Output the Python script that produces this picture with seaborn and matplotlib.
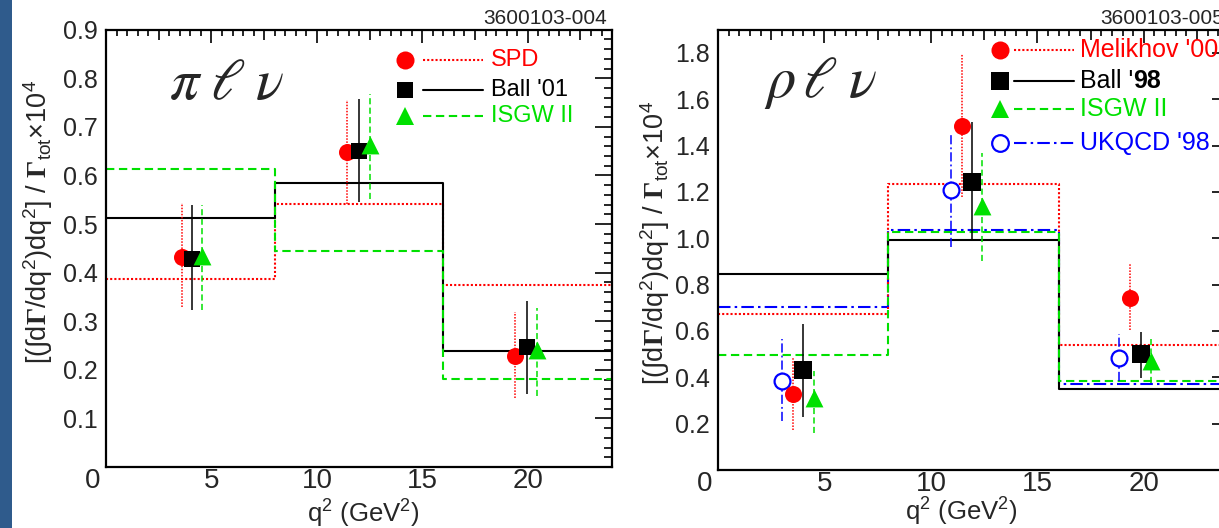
import numpy as np
import pandas as pd
import matplotlib
matplotlib.use("Agg")
import matplotlib.pyplot as plt
import seaborn as sns
from matplotlib.ticker import MultipleLocator, FixedLocator, FormatStrFormatter
from matplotlib.patches import Rectangle
from matplotlib.lines import Line2D

# ------------------------------------------------------------------ data
bin_edges = [0, 8, 16, 24]

# ---- pi l nu panel
pi_labels = ["SPD", "Ball '01", "ISGW II"]
pi_theory_spd = [0.386, 0.542, 0.375]
pi_theory_ball = [0.512, 0.584, 0.238]
pi_theory_isgw = [0.613, 0.445, 0.181]

pi_q2_spd = [3.6, 11.45, 19.4]
pi_rate_spd = [0.433, 0.648, 0.229]
pi_hi_spd = [0.543, 0.755, 0.319]
pi_lo_spd = [0.330, 0.542, 0.141]

pi_q2_ball = [4.1, 12.0, 19.95]
pi_rate_ball = [0.428, 0.651, 0.246]
pi_hi_ball = [0.539, 0.757, 0.342]
pi_lo_ball = [0.324, 0.546, 0.151]

pi_q2_isgw = [4.55, 12.5, 20.45]
pi_rate_isgw = [0.435, 0.662, 0.241]
pi_hi_isgw = [0.540, 0.767, 0.328]
pi_lo_isgw = [0.323, 0.552, 0.146]

# ---- rho l nu panel
rho_labels = ["Melikhov '00", "Ball '", "ISGW II", "UKQCD '98"]
rho_theory_mel = [0.673, 1.235, 0.538]
rho_theory_ball = [0.846, 0.993, 0.350]
rho_theory_isgw = [0.495, 1.028, 0.386]
rho_theory_ukqcd = [0.703, 1.036, 0.372]

rho_q2_mel = [3.5, 11.45, 19.35]
rho_rate_mel = [0.328, 1.484, 0.741]
rho_hi_mel = [0.485, 1.794, 0.887]
rho_lo_mel = [0.171, 1.177, 0.603]

rho_q2_ball = [4.0, 11.95, 19.85]
rho_rate_ball = [0.432, 1.242, 0.502]
rho_hi_ball = [0.630, 1.500, 0.596]
rho_lo_ball = [0.229, 0.988, 0.397]

rho_q2_isgw = [4.5, 12.4, 20.35]
rho_rate_isgw = [0.31, 1.14, 0.47]
rho_hi_isgw = [0.429, 1.369, 0.567]
rho_lo_isgw = [0.161, 0.901, 0.374]

rho_q2_ukqcd = [3.0, 10.95, 18.85]
rho_rate_ukqcd = [0.386, 1.206, 0.485]
rho_hi_ukqcd = [0.567, 1.453, 0.589]
rho_lo_ukqcd = [0.212, 0.962, 0.386]

# ------------------------------------------------------------------ style
RED = "#ff0000"
BLACK = "#000000"
GREEN = "#00e000"
BLUE = "#0000ff"
DOT = (0, (1, 1))
DASH = (0, (4, 2.2))
DASHDOT = (0, (6, 2, 1.2, 2))
SOLID = "-"

sns.set_theme(style="white")
plt.rcParams["font.family"] = ["Liberation Sans", "DejaVu Sans"]
plt.rcParams["mathtext.fontset"] = "custom"
plt.rcParams["mathtext.rm"] = "Liberation Sans"
plt.rcParams["mathtext.it"] = "Liberation Sans:italic"
plt.rcParams["mathtext.bf"] = "Liberation Serif:bold"
plt.rcParams["mathtext.fallback"] = "stix"
plt.rcParams["axes.linewidth"] = 1.6
plt.rcParams["axes.edgecolor"] = "black"

fig = plt.figure(figsize=(12.19, 5.28), dpi=100)
fig.patch.set_facecolor("white")
fig.patches.append(Rectangle((0, 0), 12 / 1219, 1, transform=fig.transFigure,
                             facecolor="#2f5b8c", edgecolor="none", zorder=0))

axL = fig.add_axes([0.0870, 0.1155, 0.4151, 0.8284])
axR = fig.add_axes([0.5890, 0.1098, 0.4192, 0.8341])


def make_series(label, color, ls, marker, theory, q2, rate, lo, hi, ms, hollow=False):
    return dict(label=label, color=color, ls=ls, marker=marker, theory=theory,
                q2=q2, rate=rate, lo=lo, hi=hi, ms=ms, hollow=hollow)


pi_series = [
    make_series(pi_labels[0], RED, DOT, "o", pi_theory_spd, pi_q2_spd, pi_rate_spd, pi_lo_spd, pi_hi_spd, 150),
    make_series(pi_labels[1], BLACK, SOLID, "s", pi_theory_ball, pi_q2_ball, pi_rate_ball, pi_lo_ball, pi_hi_ball, 135),
    make_series(pi_labels[2], GREEN, DASH, "^", pi_theory_isgw, pi_q2_isgw, pi_rate_isgw, pi_lo_isgw, pi_hi_isgw, 165),
]
rho_series = [
    make_series(rho_labels[3], BLUE, DASHDOT, "o", rho_theory_ukqcd, rho_q2_ukqcd, rho_rate_ukqcd, rho_lo_ukqcd, rho_hi_ukqcd, 130, hollow=True),
    make_series(rho_labels[0], RED, DOT, "o", rho_theory_mel, rho_q2_mel, rho_rate_mel, rho_lo_mel, rho_hi_mel, 150),
    make_series(rho_labels[1], BLACK, SOLID, "s", rho_theory_ball, rho_q2_ball, rho_rate_ball, rho_lo_ball, rho_hi_ball, 150),
    make_series(rho_labels[2], GREEN, DASH, "^", rho_theory_isgw, rho_q2_isgw, rho_rate_isgw, rho_lo_isgw, rho_hi_isgw, 165),
]

XT = 20   # x tick label size
YT = 18   # y tick label size


def draw_panel(ax, series, ylim, yminor, ylabels):
    for s in series:
        # theory histogram (step)
        df = pd.DataFrame({"q2": bin_edges, "v": list(s["theory"]) + [s["theory"][-1]]})
        sns.lineplot(data=df, x="q2", y="v", ax=ax, drawstyle="steps-post",
                     color=s["color"], linestyle=s["ls"], linewidth=1.5,
                     estimator=None, errorbar=None, zorder=2, legend=False)
    for s in series:
        ax.vlines(s["q2"], s["lo"], s["hi"], colors=s["color"], linestyles=[s["ls"]],
                  linewidth=1.1, zorder=3)
        pts = pd.DataFrame({"q2": s["q2"], "rate": s["rate"]})
        if s["hollow"]:
            sns.scatterplot(data=pts, x="q2", y="rate", ax=ax, marker=s["marker"], s=s["ms"],
                            facecolor="white", edgecolor=s["color"], linewidth=1.6,
                            zorder=4, legend=False)
        else:
            sns.scatterplot(data=pts, x="q2", y="rate", ax=ax, marker=s["marker"], s=s["ms"],
                            color=s["color"], edgecolor=s["color"], linewidth=0,
                            zorder=4, legend=False)
    ax.set_xlim(0, 24)
    ax.set_ylim(*ylim)
    ax.xaxis.set_major_locator(FixedLocator([5, 10, 15, 20]))
    ax.xaxis.set_minor_locator(MultipleLocator(0.5))
    ax.yaxis.set_major_locator(FixedLocator(ylabels))
    ax.yaxis.set_major_formatter(FormatStrFormatter("%.1f"))
    ax.yaxis.set_minor_locator(MultipleLocator(yminor))
    ax.tick_params(axis="both", which="both", direction="in", top=True, right=True,
                   width=1.2, color="black")
    ax.tick_params(axis="x", which="major", length=9.5, labelsize=XT, pad=1)
    ax.tick_params(axis="x", which="minor", length=4)
    ax.tick_params(axis="y", which="major", length=12, labelsize=YT, pad=6)
    ax.tick_params(axis="y", which="minor", length=6)
    ax.set_facecolor("white")
    for sp in ax.spines.values():
        sp.set_visible(True)
        sp.set_linewidth(1.6)
        sp.set_color("black")
    ax.set_xlabel("q$^2$ (GeV$^2$)", fontsize=18.5, va="top")
    ax.set_ylabel("[(∫d$\\mathbf{\\Gamma}$/dq$^2$)dq$^2$] / $\\mathbf{\\Gamma}_{\\rm tot}$$\\times$10$^4$",
                  fontsize=19.5)
    # the "0" label of the q2 axis, shifted left as in the original
    ax.annotate("0", xy=(0, 0), xycoords=("data", "axes fraction"), xytext=(-13, -1),
                textcoords="offset pixels", ha="center", va="top", fontsize=XT)


draw_panel(axL, pi_series, (0, 0.9), 0.02,
           [0.1, 0.2, 0.3, 0.4, 0.5, 0.6, 0.7, 0.8, 0.9])
draw_panel(axR, rho_series, (0, 1.9), 0.05,
           [0.2, 0.4, 0.6, 0.8, 1.0, 1.2, 1.4, 1.6, 1.8])

axL.xaxis.set_label_coords(0.508, -0.071)
axR.xaxis.set_label_coords(0.477, -0.059)
axL.yaxis.set_label_coords(-0.101, 0.56)
axR.yaxis.set_label_coords(-0.090, 0.515)

# panel titles
axL.text(0.125, 0.841, r"$\pi\;\ell\;\nu$", transform=axL.transAxes, fontsize=42,
         math_fontfamily="stix", ha="left", va="baseline")
axR.text(0.090, 0.846, r"$\rho\,\ell\;\nu$", transform=axR.transAxes, fontsize=42,
         math_fontfamily="stix", ha="left", va="baseline")

# figure ids
axL.annotate("3600103-004", xy=(1, 1), xycoords="axes fraction", xytext=(-5, 6),
             textcoords="offset pixels", ha="right", va="baseline", fontsize=15)
axR.annotate("3600103-005", xy=(1, 1), xycoords="axes fraction", xytext=(-5, 6),
             textcoords="offset pixels", ha="right", va="baseline", fontsize=15)


# legends (marker, line sample, coloured text)
def legend_rows(ax, entries, xm, xl0, xl1, xt, rows, fs=17):
    for (lab, color, ls, marker, ms, hollow), y in zip(entries, rows):
        ax.add_line(Line2D([xl0, xl1], [y, y], transform=ax.transAxes, color=color,
                           linestyle=ls, linewidth=1.5, zorder=5))
        ax.add_line(Line2D([xm], [y], transform=ax.transAxes, marker=marker, markersize=ms,
                           markerfacecolor="white" if hollow else color,
                           markeredgecolor=color, markeredgewidth=1.6 if hollow else 0,
                           linestyle="none", zorder=6))
        t = ax.text(xt, y, lab, transform=ax.transAxes, color=color, fontsize=fs,
                    ha="left", va="center", zorder=6)
        if lab == "Ball '":
            ax.annotate("98", xy=(1, 0), xycoords=t, ha="left", va="bottom",
                        fontsize=fs, fontweight="bold", color=color)


legend_rows(axL, [
    (pi_labels[0], RED, DOT, "o", 13, False),
    (pi_labels[1], BLACK, SOLID, "s", 11.5, False),
    (pi_labels[2], GREEN, DASH, "^", 13, False),
], 0.591, 0.627, 0.745, 0.761, [0.930, 0.862, 0.802], fs=17)

legend_rows(axR, [
    (rho_labels[0], RED, DOT, "o", 13, False),
    (rho_labels[1], BLACK, SOLID, "s", 12.5, False),
    (rho_labels[2], GREEN, DASH, "^", 13, False),
    (rho_labels[3], BLUE, DASHDOT, "o", 12, True),
], 0.552, 0.580, 0.697, 0.708, [0.953, 0.884, 0.819, 0.743], fs=18)

# medium ticks at multiples of 2.5 on the q2 axis
fig.canvas.draw()
for ax in (axL, axR):
    for t in ax.xaxis.get_minor_ticks():
        loc = t.get_loc()
        if abs(loc / 2.5 - round(loc / 2.5)) < 1e-6:
            t.tick1line.set_markersize(7)
            t.tick2line.set_markersize(7)

fig.savefig("out.png", dpi=100, facecolor="white")
